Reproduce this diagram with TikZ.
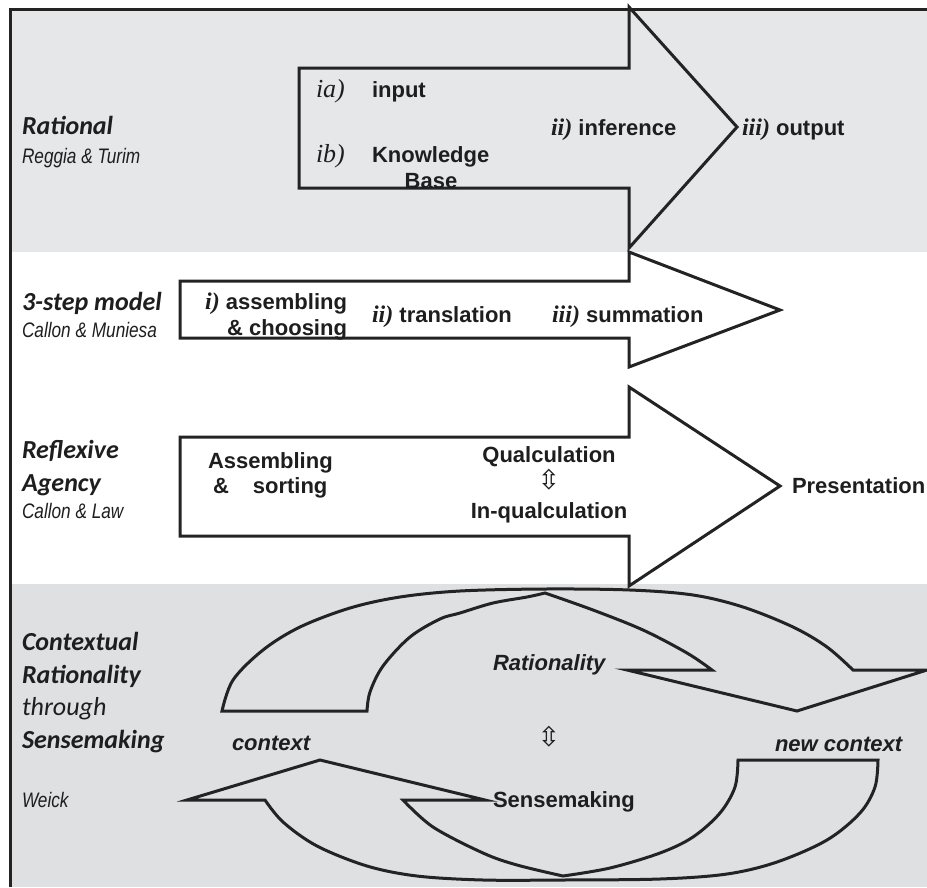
\documentclass[tikz,border=0pt]{standalone}
\usepackage{fontspec}
\setmainfont{Liberation Sans}
\newfontfamily\califont{Carlito}
\newfontfamily\narrowfont[FakeStretch=0.82]{Liberation Sans}
\newfontfamily\timesfont{Liberation Serif}
\newfontfamily\symfont{DejaVu Sans}
\definecolor{bandA}{HTML}{E6E7E8}
\definecolor{bandB}{HTML}{DFE0E2}
\definecolor{ink}{HTML}{232323}
\definecolor{txt}{HTML}{1E1E1E}
\newcommand\romnum[1]{{\timesfont\bfseries\itshape\fontsize{24pt}{26pt}\selectfont #1}}
\newcommand\romlight[1]{{\timesfont\itshape\fontsize{26pt}{28pt}\selectfont #1}}
\begin{document}
\begin{tikzpicture}[x=1pt,y=-1pt,
  every node/.style={inner sep=0pt, outer sep=0pt, text=txt},
  arr/.style={draw=ink, line width=3pt, line join=miter},
  lab/.style={font=\fontsize{22pt}{26pt}\selectfont\bfseries},
  labit/.style={font=\fontsize{22pt}{26pt}\selectfont\bfseries\itshape},
  side/.style={font=\califont\fontsize{26pt}{30pt}\selectfont\bfseries\itshape},
  sideup/.style={font=\califont\fontsize{26pt}{30pt}\selectfont\itshape},
  cite/.style={font=\narrowfont\fontsize{21pt}{25pt}\selectfont\itshape},
  sym/.style={font=\symfont\fontsize{27pt}{29pt}\selectfont}
  ]
\useasboundingbox (0,0) rectangle (927,887);
% bands
\fill[bandA] (10,9) rectangle (927,252);
\fill[bandB] (10,584) rectangle (927,887);
% straight arrows
\draw[arr] (299,68) -- (629,68) -- (629,7) -- (737,127) -- (629,248) -- (629,188) -- (299,188) -- cycle;
\draw[arr] (180,281) -- (629,281) -- (629,252) -- (780,310) -- (629,367) -- (629,338) -- (180,338) -- cycle;
\draw[arr] (180,437) -- (629,437) -- (629,387) -- (780,486) -- (629,586) -- (629,536) -- (180,536) -- cycle;
% curved arrows
\draw[arr] plot[smooth, tension=0.55] coordinates {(222,711) (233,680) (263,650) (300,627) (350,608) (400,597) (460,591) (545,589) (630,590) (693,595) (743,607) (793,627) (827,647) (853,670)}
  -- (927,670) -- (797,711) -- (627,670) -- (712,670)
  -- plot[smooth, tension=0.55] coordinates {(712,670) (687,653) (643,630) (593,610) (545,593)}
  -- plot[smooth, tension=0.55] coordinates {(545,593) (527,597) (493,603) (460,613) (440,619) (410,637) (383,666) (370,692) (367,711)}
  -- cycle;
\draw[arr] plot[smooth, tension=0.55] coordinates {(878,760) (875,787) (860,813) (827,840) (777,862) (727,874) (660,879) (563,880) (483,880) (417,876) (367,866) (317,846) (283,822) (265,800)}
  -- (187,800) -- (320,760) -- (485,800) -- (403,800)
  -- plot[smooth, tension=0.55] coordinates {(403,800) (433,827) (483,853) (517,865) (563,876)}
  -- plot[smooth, tension=0.55] coordinates {(563,876) (610,868) (660,853) (693,837) (720,813) (735,787) (738,760)}
  -- cycle;
% frame
\draw[ink, line width=3pt] (10,887) -- (10,9) -- (927,9);
% band 1 texts
\node[side, anchor=base west] (rat) at (22,134) {Rational};
\node[cite, anchor=base west] (ratc) at (22,163) {Reggia \& Turim};
\node[anchor=base west] (ia) at (316,97) {\romlight{ia)}};
\node[lab, anchor=base west] (inp) at (372,97) {input};
\node[anchor=base west] (ib) at (316,162) {\romlight{ib)}};
\node[lab, anchor=base west] (kn) at (372,162) {Knowledge};
\node[lab, anchor=base] (base) at (431,188) {Base};
\node[lab, anchor=base west] (inf) at (551,135) {\romnum{ii)} inference};
\node[lab, anchor=base west] (out) at (742,135) {\romnum{iii)} output};
% band 2 texts
\node[side, anchor=base west] (three) at (22,310) {3-step model};
\node[cite, anchor=base west] (threec) at (22,337) {Callon \& Muniesa};
\node[lab, anchor=base east] (asm) at (347,309) {\romnum{i)} assembling};
\node[lab, anchor=base east] (cho) at (347,335) {\& choosing};
\node[lab, anchor=base west] (tra) at (372,322) {\romnum{ii)} translation};
\node[lab, anchor=base west] (sum) at (552,322) {\romnum{iii)} summation};
% band 3 texts
\node[side, anchor=base west] (refl) at (22,458) {Reflexive};
\node[side, anchor=base west] (agen) at (22,491) {Agency};
\node[cite, anchor=base west] (reflc) at (22,518) {Callon \& Law};
\node[lab, anchor=base west] (asb) at (208,468) {Assembling};
\node[lab, anchor=base west] (sort) at (213,493) {\&\hspace{24pt}sorting};
\node[lab, anchor=base] (qual) at (549,462) {Qualculation};
\node[sym] (updn) at (549,480) {⇳};
\node[lab, anchor=base] (inq) at (549,518) {In-qualculation};
\node[lab, anchor=base west] (pres) at (792,493) {Presentation};
% band 4 texts
\node[side, anchor=base west] (ctx1) at (22,650) {Contextual};
\node[side, anchor=base west] (ctx2) at (22,683) {Rationality};
\node[sideup, anchor=base west] (ctx3) at (22,715) {through};
\node[side, anchor=base west] (ctx4) at (22,748) {Sensemaking};
\node[cite, anchor=base west] (weick) at (22,807) {Weick};
\node[labit, anchor=base west] (context) at (232,750) {context};
\node[labit, anchor=base west] (ration) at (493,670) {Rationality};
\node[sym] (updn2) at (549,737) {⇳};
\node[labit, anchor=base west] (newc) at (775,751) {new context};
\node[lab, anchor=base west] (sense) at (493,807) {Sensemaking};
\end{tikzpicture}
\end{document}
